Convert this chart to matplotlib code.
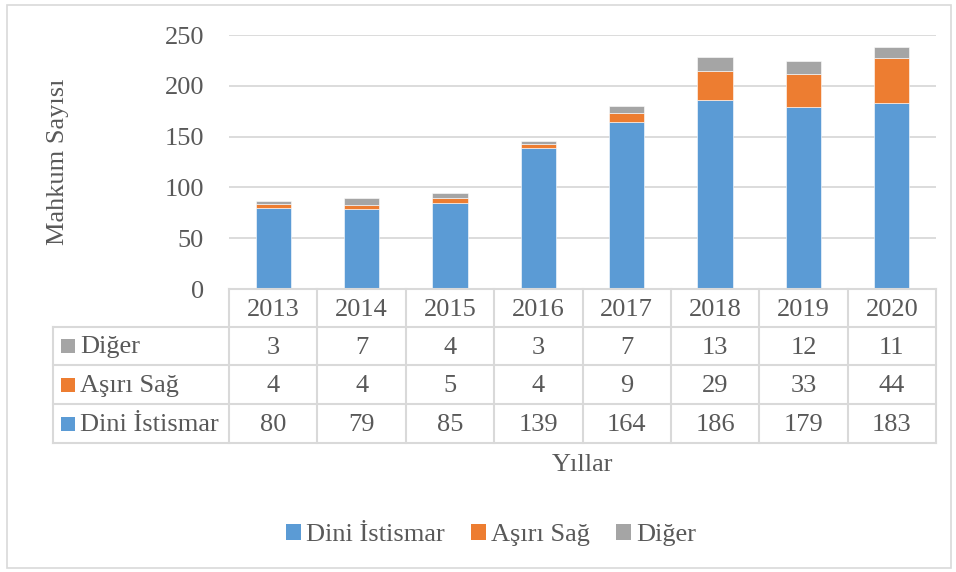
import matplotlib
matplotlib.use("Agg")
import matplotlib.pyplot as plt
from matplotlib.patches import Patch, Rectangle
from matplotlib.lines import Line2D
from matplotlib.transforms import blended_transform_factory

years = ["2013", "2014", "2015", "2016", "2017", "2018", "2019", "2020"]
dini = [80, 79, 85, 139, 164, 186, 179, 183]
asiri = [4, 4, 5, 4, 9, 29, 33, 44]
diger = [3, 7, 4, 3, 7, 13, 12, 11]
series_names = ["Dini İstismar", "Aşırı Sağ", "Diğer"]
colors = ["#5B9BD5", "#ED7D31", "#A5A5A5"]
yticks = [0, 50, 100, 150, 200, 250]

TXT = "#595959"
GRID = "#D9D9D9"
FS = 19
plt.rcParams["font.family"] = ["Liberation Serif", "DejaVu Serif"]

W, H = 956, 572
fig = plt.figure(figsize=(W / 100, H / 100), dpi=100)

def fx(px):
    return px / W

def fy(py):
    return 1 - py / H

# outer chart border
fig.patches.append(Rectangle((fx(7), fy(568)), fx(944), 563 / H, transform=fig.transFigure,
                             fill=False, edgecolor=GRID, lw=1.2))

ax_l, ax_r, ax_t, ax_b = 229, 936, 35, 289
ax = fig.add_axes([fx(ax_l), fy(ax_b), (ax_r - ax_l) / W, (ax_b - ax_t) / H])

x = list(range(len(years)))
bw = 0.4
bottom2 = [a + b for a, b in zip(dini, asiri)]
ax.bar(x, dini, bw, color=colors[0], edgecolor="white", lw=0.4, zorder=3)
ax.bar(x, asiri, bw, bottom=dini, color=colors[1], edgecolor="white", lw=0.4, zorder=3)
ax.bar(x, diger, bw, bottom=bottom2, color=colors[2], edgecolor="white", lw=0.4, zorder=3)

ax.set_xlim(-0.5, len(years) - 0.5)
ax.set_ylim(0, 250)
ax.set_yticks(yticks)
ax.set_yticklabels([str(v) for v in yticks], fontsize=FS, color=TXT)
ax.tick_params(axis="y", length=0, pad=18)
ax.set_xticks([])
ax.grid(axis="y", color=GRID, lw=1.3, zorder=0)
for s in ax.spines.values():
    s.set_visible(False)

ax.text(fx(58), fy(162), "Mahkum Sayısı", transform=fig.transFigure, rotation=90,
        ha="center", va="center", fontsize=FS, color=TXT)

# data table
tr = blended_transform_factory(ax.transData, fig.transFigure)
rows_y = [289, 327, 365, 404, 443]
lw_t = 1.5
n = len(years)
fig.add_artist(Line2D([-0.5, n - 0.5], [fy(289)] * 2, transform=tr, color=GRID, lw=lw_t))
for py in rows_y[1:]:
    fig.add_artist(Line2D([fx(53), fx(ax_r)], [fy(py)] * 2, transform=fig.transFigure, color=GRID, lw=lw_t))
for i in range(n + 1):
    fig.add_artist(Line2D([i - 0.5, i - 0.5], [fy(289), fy(443)], transform=tr, color=GRID, lw=lw_t))
fig.add_artist(Line2D([fx(53), fx(53)], [fy(327), fy(443)], transform=fig.transFigure, color=GRID, lw=lw_t))

for i, yr in enumerate(years):
    fig.text(i, fy(309.5), yr, transform=tr, ha="center", va="center", fontsize=FS, color=TXT)

table_rows = [("Diğer", diger, colors[2]), ("Aşırı Sağ", asiri, colors[1]), ("Dini İstismar", dini, colors[0])]
for r, (name, vals, col) in enumerate(table_rows):
    yc = (rows_y[r + 1] + rows_y[r + 2]) / 2
    fig.patches.append(Rectangle((fx(61), fy(yc + 7)), 14 / W, 14 / H, transform=fig.transFigure,
                                 facecolor=col, edgecolor="none"))
    fig.text(fx(80), fy(yc + 1.5), name, ha="left", va="center", fontsize=FS, color=TXT)
    for i, v in enumerate(vals):
        fig.text(i, fy(yc + 1.5), str(v), transform=tr, ha="center", va="center", fontsize=FS, color=TXT)

fig.text(fx(583), fy(465), "Yıllar", ha="center", va="center", fontsize=FS, color=TXT)

handles = [Patch(facecolor=c, edgecolor="none") for c in colors]
fig.legend(handles, series_names, loc="center", bbox_to_anchor=(fx(491), fy(535)), ncol=3,
           frameon=False, fontsize=FS, labelcolor=TXT, handlelength=0.55, handleheight=0.55,
           handletextpad=0.2, columnspacing=1.0)

fig.savefig("out.png", dpi=100)
